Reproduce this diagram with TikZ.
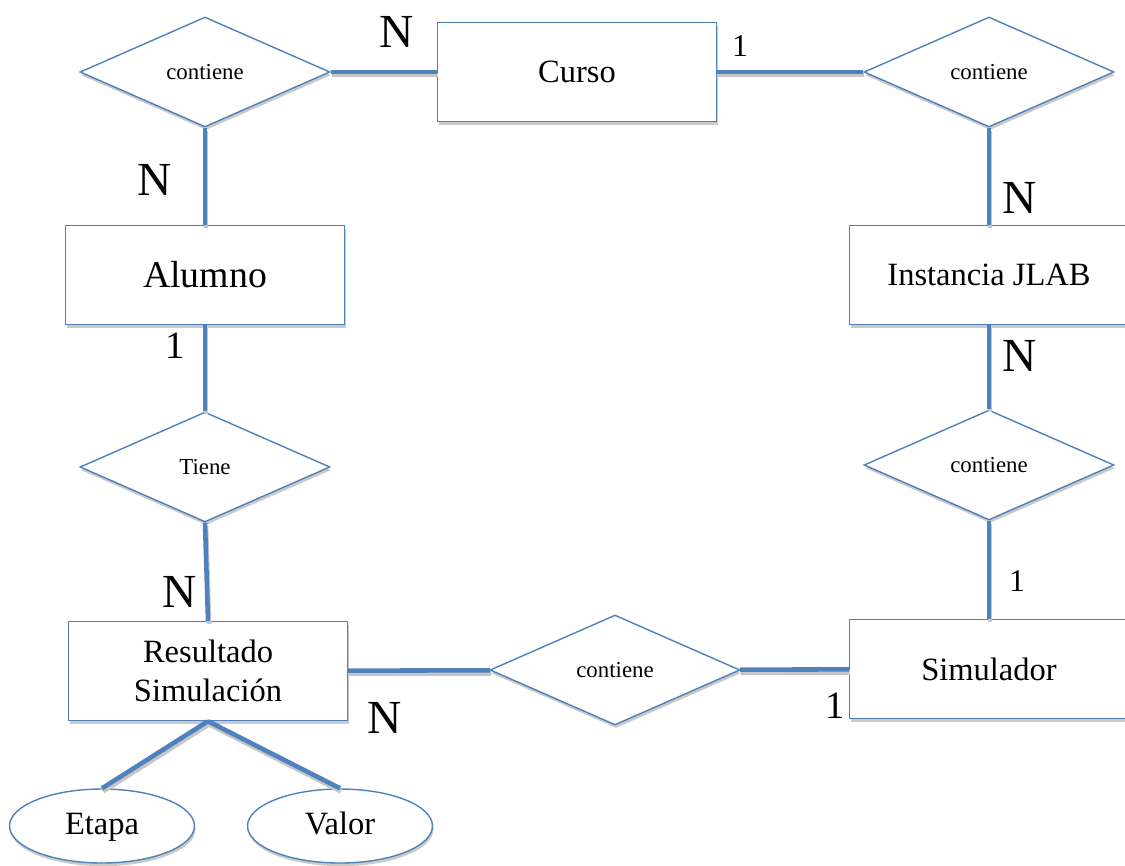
\documentclass[tikz,border=0pt]{standalone}
\usepackage{fontspec}
\setmainfont{Liberation Serif}
\usetikzlibrary{shapes.geometric,shadows}
\definecolor{erblue}{RGB}{79,129,189}
\begin{document}
\begin{tikzpicture}[x=0.02cm,y=-0.02cm,
  shade/.style={drop shadow={shadow xshift=0.6pt, shadow yshift=-1.8pt, fill=gray!70, opacity=0.6}},
  entity/.style={rectangle, draw=erblue, line width=0.8pt, fill=white, shade, minimum width=5.58cm, minimum height=1.98cm, font=\fontsize{18.5}{22}\selectfont},
  rel/.style={diamond, draw=erblue, line width=0.8pt, fill=white, shade, minimum width=5cm, minimum height=2.2cm, inner sep=0pt, font=\fontsize{13}{15}\selectfont},
  attr/.style={ellipse, draw=erblue, line width=0.8pt, fill=white, shade, minimum width=3.7cm, minimum height=1.48cm, text height=2.6ex, text depth=0.5ex, font=\fontsize{18.5}{22}\selectfont},
  link/.style={draw=erblue, line width=2.6pt, preaction={draw=gray!45, line width=2.6pt, transform canvas={xshift=0.6pt, yshift=-1.8pt}}},
  cardN/.style={font=\fontsize{27}{30}\selectfont},
  cardbig/.style={font=\fontsize{22}{26}\selectfont},
  cardsmall/.style={font=\fontsize{18}{22}\selectfont}]
\clip (0,0) rectangle (1125,865);
\node[rel] (contA) at (205,72){contiene};
\node[entity] (curso) at (577,72){Curso};
\node[rel] (contB) at (989,72){contiene};
\node[entity, font=\fontsize{21.5}{25}\selectfont] (alumno) at (205,275){Alumno};
\node[entity] (jlab) at (989,275){Instancia JLAB};
\node[rel] (tiene) at (205,467){Tiene};
\node[rel] (contC) at (989,465){contiene};
\node[entity, align=center] (resultado) at (208,671){Resultado\\Simulación};
\node[rel] (contD) at (615,670){contiene};
\node[entity] (simulador) at (989,669){Simulador};
\node[attr] (etapa) at (102,826){Etapa};
\node[attr] (valor) at (340,826){Valor};
\draw[link](contA) -- (curso);
\draw[link](curso) -- (contB);
\draw[link](contA) -- (alumno);
\draw[link](contB) -- (jlab);
\draw[link](jlab) -- (contC);
\draw[link](contC) -- (simulador);
\draw[link](alumno) -- (tiene);
\draw[link](tiene.south) -- (resultado.north);
\draw[link](resultado) -- (contD);
\draw[link](contD) -- (simulador);
\draw[link](resultado.south) -- (etapa.north);
\draw[link](resultado.south) -- (valor.north);
\node[cardN] (nCurso) at (397,32){N};
\node[cardsmall] (unoCurso) at (740,46){1};
\node[cardN] (nAlumno) at (155,180){N};
\node[cardN] (nJlabA) at (1020,198){N};
\node[cardN] (nJlabB) at (1020,356){N};
\node[cardbig] (unoAlumno) at (175,346){1};
\node[cardsmall] (unoSim) at (1017,581){1};
\node[cardN] (nRes) at (180,592){N};
\node[cardN] (nResB) at (385,718){N};
\node[cardbig] (unoSimB) at (835,706){1};
\end{tikzpicture}
\end{document}
